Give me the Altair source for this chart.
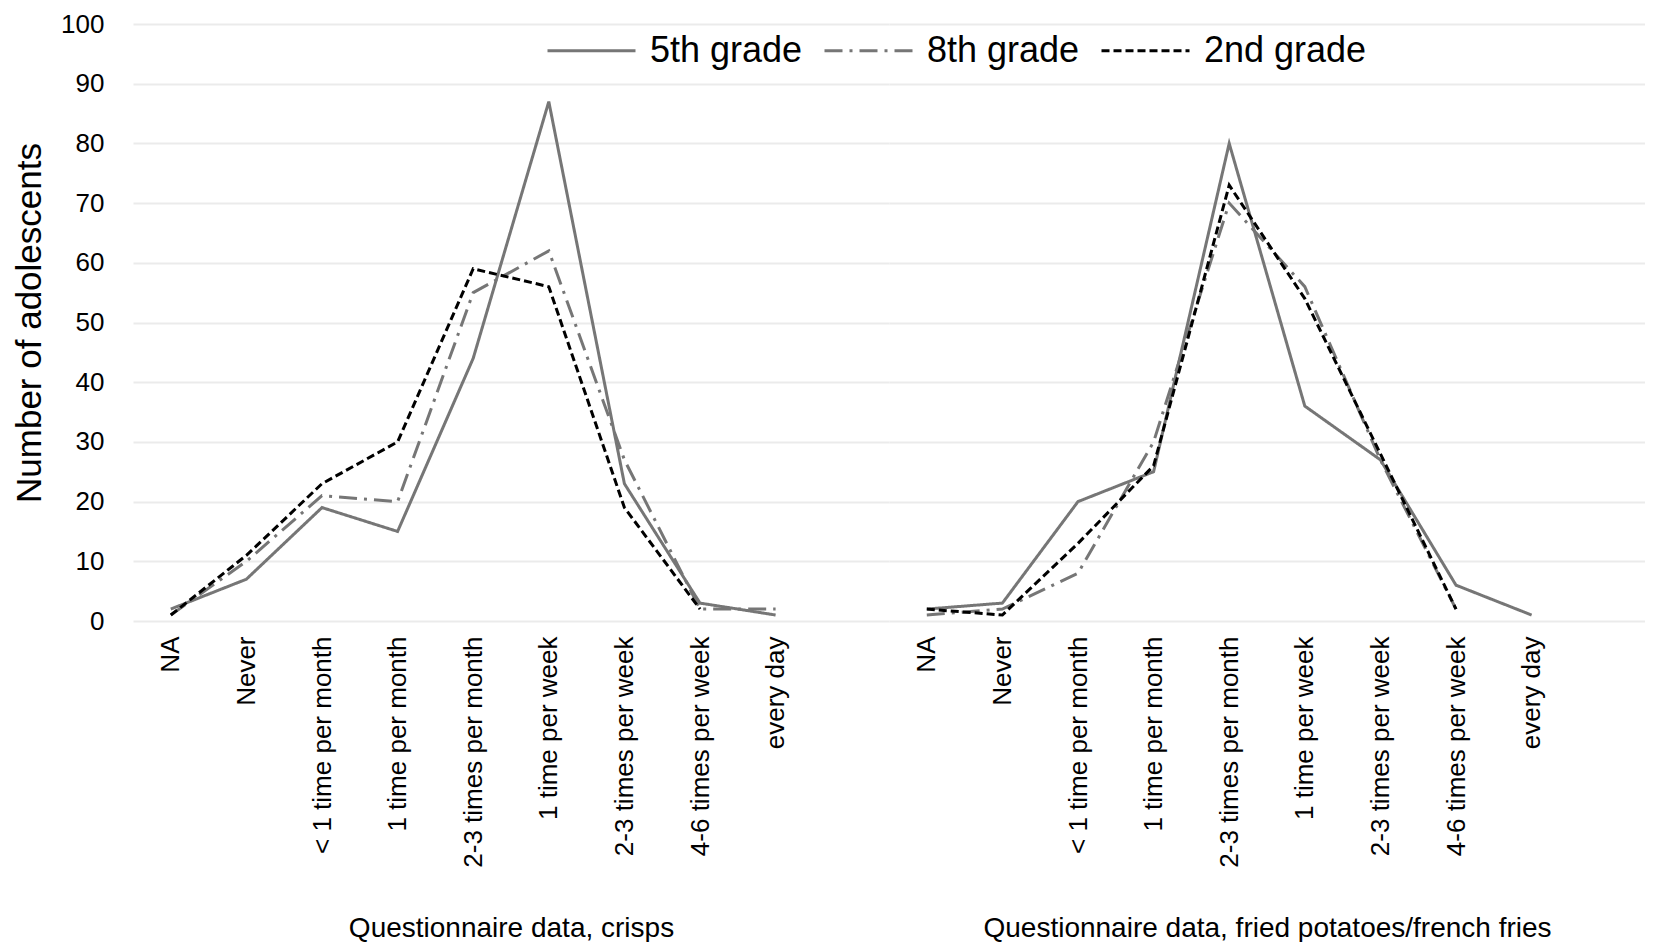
import altair as alt
import pandas as pd

# ---- data ----
categories = ["NA", "Never", "< 1 time per month", "1 time per month",
              "2-3 times per month", "1 time per week", "2-3 times per week",
              "4-6 times per week", "every day"]
blank_slot = " "
grades = ["5th grade", "8th grade", "2nd grade"]

crisps_5th = [2, 7, 19, 15, 44, 87, 23, 3, 1]
crisps_8th = [1, 10, 21, 20, 55, 62, 27, 2, 2]
crisps_2nd = [1, 11, 23, 30, 59, 56, 19, 2, None]

fries_5th = [2, 3, 20, 25, 80, 36, 27, 6, 1]
fries_8th = [1, 2, 8, 30, 70, 56, 27, 2, None]
fries_2nd = [2, 1, 13, 26, 73, 54, 28, 2, None]

group_titles = ["Questionnaire data, crisps",
                "Questionnaire data, fried potatoes/french fries"]
y_title = "Number of adolescents"

line_colors = ["#767676", "#767676", "#000000"]
line_dashes = [[1, 0], [18, 7, 3, 7], [8, 4]]


def frame(series):
    rows = []
    for grade, vals in zip(grades, series):
        for c, v in zip(categories, vals):
            if v is None:
                continue
            rows.append({"category": c, "grade": grade, "count": v})
    return pd.DataFrame(rows)


crisps_df = frame([crisps_5th, crisps_8th, crisps_2nd])
fries_df = frame([fries_5th, fries_8th, fries_2nd])

FONT = "Liberation Sans"

legend = alt.Legend(
    orient="none", legendX=413, legendY=-19, direction="horizontal",
    title=None, symbolType="stroke", symbolSize=7744, symbolStrokeWidth=3,
    labelFontSize=36, labelFont=FONT, labelColor="#000000", labelLimit=400,
    columnPadding=15, labelOffset=13, padding=0,
)


def panel(df, group_title, show_y):
    if show_y:
        y_axis = alt.Axis(
            title=y_title, titleFontSize=35, titleFontWeight="normal",
            titleFont=FONT, titleColor="#000000", titlePadding=13,
            labelFontSize=26, labelFont=FONT, labelColor="#000000",
            labelPadding=29, values=list(range(0, 101, 10)),
            ticks=False, domain=False, grid=True,
            gridColor="#ebebeb", gridWidth=2,
        )
    else:
        y_axis = alt.Axis(
            title=None, labels=False, ticks=False, domain=False, grid=True,
            values=list(range(0, 101, 10)), labelPadding=0,
            gridColor="#ebebeb", gridWidth=2,
        )
    x_axis = alt.Axis(
        title=group_title, titleFontSize=28, titleFontWeight="normal",
        titleFont=FONT, titleColor="#000000", titlePadding=93,
        labelAngle=-90, labelFontSize=26, labelFont=FONT,
        labelColor="#000000", labelPadding=15, ticks=False, domain=False,
        grid=False, labelLimit=400,
    )
    return alt.Chart(df).mark_line(strokeWidth=3, strokeCap="butt").encode(
        x=alt.X("category:N", sort=None,
                scale=alt.Scale(type="point", domain=categories + [blank_slot],
                                padding=0.5),
                axis=x_axis),
        y=alt.Y("count:Q", scale=alt.Scale(domain=[0, 100]), axis=y_axis),
        color=alt.Color("grade:N",
                        scale=alt.Scale(domain=grades, range=line_colors),
                        legend=legend),
        strokeDash=alt.StrokeDash("grade:N",
                                  scale=alt.Scale(domain=grades, range=line_dashes),
                                  legend=legend),
    ).properties(width=756, height=597)


chart = alt.hconcat(
    panel(crisps_df, group_titles[0], True),
    panel(fries_df, group_titles[1], False),
    spacing=0,
).properties(
    padding={"left": 4, "top": -3, "right": 0, "bottom": 0}
).configure(font=FONT).configure_view(strokeWidth=0)

chart.save("out.html", embed_options={"renderer": "svg", "actions": False})
